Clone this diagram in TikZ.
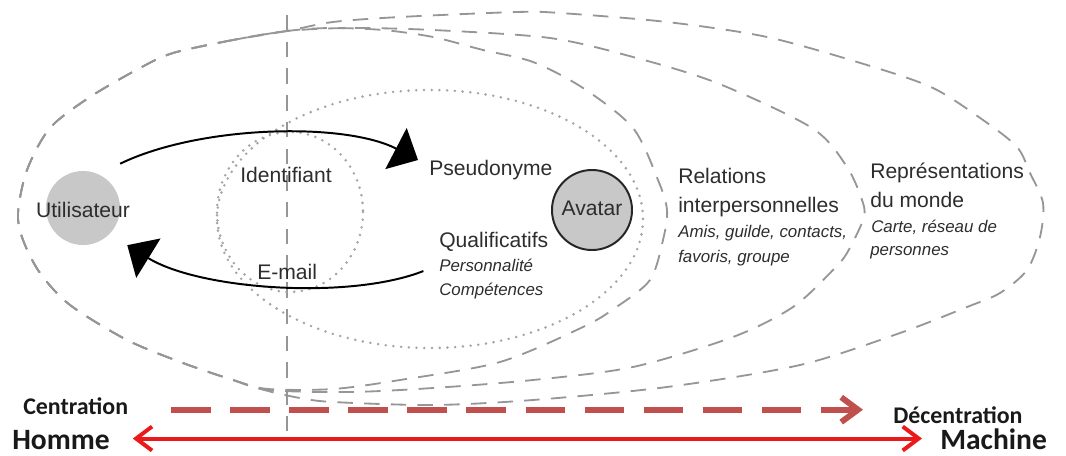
\documentclass[tikz,border=0pt]{standalone}
\usepackage{fontspec}
\setmainfont{Liberation Sans}
\newfontfamily\calib{Carlito}
\usetikzlibrary{arrows.meta,calc}

\definecolor{ringgray}{RGB}{150,150,150}
\definecolor{dotgray}{RGB}{165,165,165}
\definecolor{discgray}{RGB}{200,200,200}
\definecolor{dashred}{RGB}{192,80,77}
\definecolor{axisred}{RGB}{235,25,25}
\definecolor{inkgray}{RGB}{45,45,45}

\tikzset{
  ring/.style={ringgray, line width=1.3pt, dash pattern=on 11pt off 8pt},
  dotring/.style={dotgray, line width=2pt, line cap=round, dash pattern=on 0pt off 5.5pt},
  lbl/.style={anchor=base west, inner sep=0pt, text=inkgray, font=\fontsize{15}{18}\selectfont},
  sublbl/.style={lbl, font=\fontsize{12}{14}\selectfont\itshape},
  disc/.style={circle, fill=discgray, inner sep=0pt, minimum size=1.85cm},
  flow/.style={line width=1.4pt, -{Triangle[length=0.62cm,width=1.15cm]}},
  pole/.style={anchor=base west, inner sep=0pt, text=black!90, font=\calib\bfseries\fontsize{21}{24}\selectfont},
  polesub/.style={pole, font=\calib\bfseries\fontsize{17}{20}\selectfont},
}

\begin{document}
\begin{tikzpicture}[x=0.025cm, y=-0.025cm]
\useasboundingbox (0,0) rectangle (1066,455);

%rings
\draw[ring] plot[smooth cycle] coordinates {(287,31) (233,40) (173,53) (140,68) (90,97) (50,128) (27,170) (18,213) (23,240) (40,273) (70,305) (127,340) (183,363) (233,380) (268,389)
  (333,389) (400,380) (500,362) (583,327) (615,308) (650,280) (663,240) (667,210) (658,180) (633,128) (583,88) (533,62) (483,50) (433,37) (383,30) (330,28)};
\draw[ring] plot[smooth cycle] coordinates {(287,31) (233,40) (173,53) (140,68) (90,97) (50,128) (27,170) (18,213) (23,240) (40,273) (70,305) (127,340) (183,363) (233,380) (268,390)
  (350,392) (433,388) (533,380) (633,367) (733,337) (793,307) (833,270) (847,253) (863,220) (863,203) (847,167) (812,128) (717,83) (633,57) (550,38) (433,30) (350,28)};
\draw[ring] plot[smooth cycle] coordinates {(287,31) (233,40) (173,53) (140,68) (90,97) (50,128) (27,170) (18,213) (23,240) (40,273) (70,305) (127,340) (183,363) (233,380) (268,391)
  (300,398) (333,402) (433,405) (533,400) (667,387) (800,365) (900,333) (967,307) (1000,293) (1027,270) (1040,237) (1043,203) (1030,173) (1017,147) (983,120) (933,88) (867,65) (767,37) (667,22) (560,13) (517,12) (400,17) (333,22)};
\draw[ring] (287,15) -- (287,432);

%identity circles
\draw[dotring] (290,212) ellipse [x radius=73, y radius=80];
\draw[dotring] (430,219) ellipse [x radius=213, y radius=129];

%discs
\node[disc, outer sep=0.52cm] (user) at (83,208) {};
\node[disc, draw=black!85, line width=1.4pt, minimum size=2cm] (avatar) at (592,210) {};
\node[lbl, anchor=base] (userlbl) at (83,217) {Utilisateur};
\node[lbl, anchor=base] (avatarlbl) at (592,215) {Avatar};

%labels
\node[lbl] (ident) at (240,182) {Identifiant};
\node[lbl] (mail) at (257,279) {E-mail};
\node[lbl] (pseudo) at (429,175) {Pseudonyme};
\node[lbl] (qualif) at (439,247) {Qualificatifs};
\node[sublbl] (perso) at (439,271) {Personnalité};
\node[sublbl] (comp) at (439,295) {Compétences};

\node[lbl] (rel) at (678,183) {Relations};
\node[lbl] (inter) at (678,212) {interpersonnelles};
\node[sublbl] (amis) at (678,237) {Amis, guilde, contacts,};
\node[sublbl] (fav) at (678,262) {favoris, groupe};

\node[lbl] (repr) at (870,178) {Représentations};
\node[lbl] (monde) at (870,207) {du monde};
\node[sublbl] (carte) at (871,232) {Carte, réseau de};
\node[sublbl] (pers) at (870,255) {personnes};

%flows
\draw[flow] (user.50) .. controls (200,125) and (345,122) .. ($(pseudo.base west)+(-11,-15)$);
\draw[flow, shorten <=0.42cm] (perso.west) .. controls (350,300) and (200,290) .. (user.-40);

%axis
\node[polesub] (centr) at (23,414) {Centration};
\node[pole] (homme) at (12,449) {Homme};
\node[polesub] (decentr) at (893,423) {Décentration};
\node[pole] (machine) at (940,449) {Machine};

\draw[dashred, line width=4.2pt, dash pattern=on 28pt off 14pt, shorten <=1.07cm, shorten >=0.75cm,
  -{Straight Barb[length=0.42cm,width=0.62cm]}] ($(centr.east)+(0,4)$) -- ($(centr.east -| decentr.west)+(0,4)$);
\draw[axisred, line width=2.8pt, shorten <=0.57cm, shorten >=0.45cm,
  {Straight Barb[length=0.4cm,width=0.6cm]}-{Straight Barb[length=0.4cm,width=0.6cm]}] ($(homme.east)+(0,-1)$) -- ($(homme.east -| machine.west)+(0,-1)$);
\end{tikzpicture}
\end{document}
